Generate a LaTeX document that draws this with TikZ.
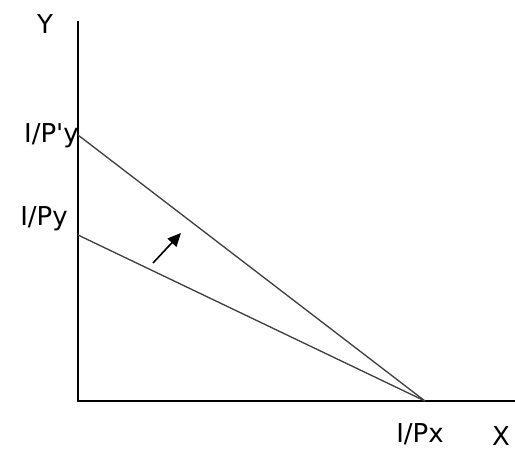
\documentclass[tikz,border=0pt]{standalone}
\usepackage{fontspec}
\setmainfont{DejaVu Sans}
\usetikzlibrary{arrows.meta,positioning}

\begin{document}
\begin{tikzpicture}[
    x=0.75pt, y=-0.75pt,
    axis/.style={line width=1.2pt, black},
    budget/.style={line width=1pt, black!75},
    lbl/.style={font=\fontsize{19.5}{22}\selectfont, inner sep=0pt},
    shiftarrow/.style={-{Triangle[length=10pt, width=9pt]}, line width=1.2pt}
]
    \useasboundingbox (0,0) rectangle (515,451);

    \coordinate (o) at (78,401);
    \coordinate (ytop) at (78,21);
    \coordinate (xend) at (515,401);
    \coordinate (py) at (78,235);
    \coordinate (ppy) at (78,135);
    \coordinate (px) at (425,401);
    \coordinate (a1) at (153,263);
    \coordinate (a2) at (181,233);

    \draw[axis] (ytop) -- (o) -- (xend);
    \draw[budget] (py) -- (px);
    \draw[budget] (ppy) -- (px);
    \draw[shiftarrow] (a1) -- (a2);

    \node[lbl] (ylab) at (45,24) {Y};
    \node[lbl, anchor=east] (ppylab) at (79,136) {I/P\textquotesingle y};
    \node[lbl] (pylab) at (44,219) {I/Py};
    \node[lbl] (pxlab) at (420,434) {I/Px};
    \node[lbl] (xlab) at (501,436) {X};
\end{tikzpicture}
\end{document}
